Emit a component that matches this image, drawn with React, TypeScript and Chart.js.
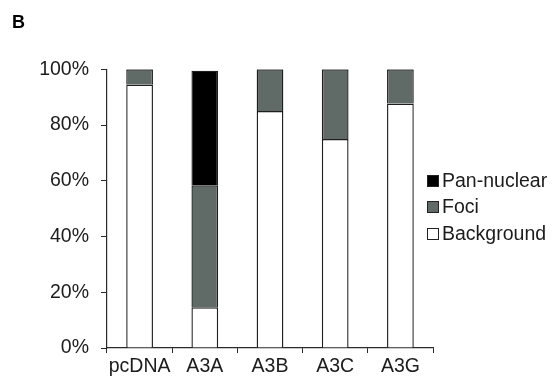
import { useEffect, useRef } from 'react';
import { Chart, registerables } from 'chart.js';

Chart.register(...registerables);

const categories = ['pcDNA', 'A3A', 'A3B', 'A3C', 'A3G'];
const background = [94.5, 14.6, 85.0, 75.0, 87.7];
const foci = [5.5, 43.8, 15.0, 25.0, 12.3];
const panNuclear = [0, 41.1, 0, 0, 0];
const yTicks = [0, 20, 40, 60, 80, 100];
const panelLabel = 'B';

const FONT = "'Liberation Sans', Arial, Helvetica, sans-serif";
const TEXT = '#1c1c1c';
const AXIS = '#2a2a2a';
const SIZE = 19.5;

const sideLegend = {
  id: 'sideLegend',
  afterDraw(chart: any) {
    const { ctx, chartArea } = chart;
    const items = [...chart.data.datasets].reverse();
    const boxX = chartArea.right - 6;
    const size = 11;
    const midY = (chartArea.top + chartArea.bottom) / 2 - 2;
    const step = 26.5;
    ctx.save();
    ctx.font = `${SIZE}px ${FONT}`;
    ctx.textBaseline = 'middle';
    ctx.textAlign = 'left';
    items.forEach((ds: any, i: number) => {
      const cy = midY + (i - 1) * step;
      const top = Math.round(cy - size / 2) + 0.5;
      ctx.fillStyle = ds.backgroundColor;
      ctx.fillRect(boxX + 0.5, top, size, size);
      ctx.lineWidth = 1;
      ctx.strokeStyle = '#222';
      ctx.strokeRect(boxX + 0.5, top, size, size);
      ctx.fillStyle = TEXT;
      ctx.fillText(ds.label, boxX + size + 4, cy + 1);
    });
    ctx.restore();
  },
};

export default function App() {
  const ref = useRef<HTMLCanvasElement>(null);

  useEffect(() => {
    if (!ref.current) return;
    const chart = new Chart(ref.current, {
      type: 'bar',
      data: {
        labels: categories,
        datasets: [
          {
            label: 'Background',
            data: background,
            backgroundColor: '#ffffff',
            borderColor: '#1e1e1e',
            borderWidth: 1.4,
          },
          {
            label: 'Foci',
            data: foci,
            backgroundColor: '#606b67',
            borderColor: '#1e1e1e',
            borderWidth: 1.4,
          },
          {
            label: 'Pan-nuclear',
            data: panNuclear,
            backgroundColor: '#000000',
            borderColor: '#1e1e1e',
            borderWidth: 1.4,
          },
        ],
      },
      options: {
        responsive: false,
        animation: false,
        layout: { padding: { left: 12, right: 122, top: 0, bottom: 0 } },
        datasets: {
          bar: { categoryPercentage: 1, barPercentage: 0.41 },
        },
        plugins: {
          legend: { display: false },
          tooltip: { enabled: false },
          title: {
            display: true,
            text: panelLabel,
            align: 'start',
            color: '#000',
            font: { family: FONT, size: 18, weight: 'bold' },
            padding: { top: 12, bottom: 35.7 },
          },
        },
        scales: {
          x: {
            stacked: true,
            afterFit: (s: any) => {
              s.height = 33;
            },
            border: { display: true, color: AXIS, width: 1.2 },
            grid: {
              display: true,
              drawOnChartArea: false,
              drawTicks: true,
              tickLength: 5,
              tickColor: (c: any) => (c.index >= categories.length ? 'rgba(0,0,0,0)' : AXIS),
            },
            ticks: {
              color: TEXT,
              padding: 2,
              maxRotation: 0,
              font: { family: FONT, size: SIZE },
            },
          },
          y: {
            stacked: true,
            min: 0,
            max: 100,
            afterFit: (s: any) => {
              s.width = 95;
            },
            afterBuildTicks: (s: any) => {
              s.ticks = yTicks.map((v) => ({ value: v }));
            },
            border: { display: true, color: AXIS, width: 1.2 },
            grid: {
              display: true,
              drawOnChartArea: false,
              drawTicks: true,
              tickLength: 6,
              tickColor: AXIS,
            },
            ticks: {
              color: TEXT,
              padding: 12,
              font: { family: FONT, size: SIZE },
              callback: (v: any) => `${v}%`,
            },
          },
        },
      },
      plugins: [sideLegend],
    });
    return () => chart.destroy();
  }, []);

  return (
    <div style={{ position: 'absolute', left: 0, top: 0, width: 555, height: 381, background: '#fff' }}>
      <canvas ref={ref} width={555} height={381} style={{ display: 'block' }} />
    </div>
  );
}
